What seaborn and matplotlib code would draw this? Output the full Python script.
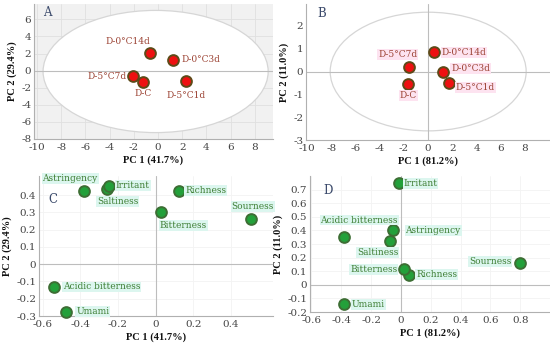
import matplotlib
matplotlib.use("Agg")
import matplotlib.pyplot as plt
from matplotlib.patches import Ellipse
import seaborn as sns
import pandas as pd

# scores (panels A, B)
samples = ["D-0°C14d", "D-0°C3d", "D-5°C7d", "D-C", "D-5°C1d"]
a_pc1 = [-0.7, 1.25, -2.1, -1.25, 2.35]
a_pc2 = [2.05, 1.25, -0.65, -1.28, -1.25]
b_pc1 = [0.52, 1.24, -1.6, -1.65, 1.71]
b_pc2 = [0.85, -0.04, 0.22, -0.54, -0.51]

# loadings (panels C, D)
tastes = ["Astringency", "Saltiness", "Irritant", "Richness", "Bitterness",
          "Sourness", "Acidic bitterness", "Umami"]
c_pc1 = [-0.38, -0.26, -0.25, 0.125, 0.03, 0.505, -0.54, -0.475]
c_pc2 = [0.424, 0.434, 0.45, 0.424, 0.30, 0.263, -0.132, -0.276]
d_pc1 = [-0.05, -0.07, -0.016, 0.056, 0.022, 0.796, -0.38, -0.384]
d_pc2 = [0.40, 0.32, 0.745, 0.074, 0.113, 0.162, 0.351, -0.138]

# label placement: (dx px, dy px, ha)
a_off = {"D-0°C14d": (-22, 12, "center"), "D-0°C3d": (8, 0, "left"),
         "D-5°C7d": (-6, 0, "right"), "D-C": (0, -12, "center"),
         "D-5°C1d": (0, -14, "center")}
b_off = {"D-0°C14d": (7, 0, "left"), "D-0°C3d": (8, 4, "left"),
         "D-5°C7d": (-11, 12, "center"), "D-C": (0, -12, "center"),
         "D-5°C1d": (7, -4, "left")}
c_off = {"Astringency": (-14, 12, "center"), "Saltiness": (11, -12, "center"),
         "Irritant": (7, 1, "left"), "Richness": (6, 0, "left"),
         "Bitterness": (22, -13, "center"), "Sourness": (2, 12, "center"),
         "Acidic bitterness": (9, 0, "left"), "Umami": (10, 0, "left")}
d_off = {"Astringency": (12, 0, "left"), "Saltiness": (-13, -11, "center"),
         "Irritant": (5, 0, "left"), "Richness": (7, 0, "left"),
         "Bitterness": (-7, 0, "right"), "Sourness": (-8, 1, "right"),
         "Acidic bitterness": (15, 17, "center"), "Umami": (8, -1, "left")}

sns.set_theme(style="white")
plt.rcParams["font.family"] = ["DejaVu Serif"]
plt.rcParams["axes.unicode_minus"] = False

W, H = 550, 352
fig = plt.figure(figsize=(5.5, 3.52), dpi=100)


def box(l, r, t, b):
    return [l / W, 1 - b / H, (r - l) / W, (b - t) / H]


def style_axes(ax, letter, lpos, xlab, ylab, xlim, ylim, xticks, yticks, bg="white"):
    ax.set_facecolor(bg)
    ax.set_xlim(*xlim)
    ax.set_ylim(*ylim)
    ax.set_xticks(xticks)
    ax.set_yticks(yticks)
    ax.tick_params(labelsize=7.5, colors="#444444", length=0, pad=2)
    ax.tick_params(axis="x", pad=3)
    for s in ["top", "right"]:
        ax.spines[s].set_visible(False)
    for s in ["left", "bottom"]:
        ax.spines[s].set_color("#b0b0b0")
        ax.spines[s].set_linewidth(0.8)
    ax.set_xlabel(xlab, family="Liberation Serif", fontweight="bold",
                  fontsize=7.5, color="#111111", labelpad=2)
    ax.set_ylabel(ylab, family="Liberation Serif", fontweight="bold",
                  fontsize=7.5, color="#111111", labelpad=3)
    ax.text(lpos[0], lpos[1], letter, transform=ax.transAxes, fontsize=8.5,
            color="#3b4a6b", va="center", ha="left")
    ax.set_axisbelow(True)


def draw_points(ax, xs, ys, names, offs, fill, edge, tcolor, hl):
    df = pd.DataFrame({"x": xs, "y": ys, "name": names})
    sns.scatterplot(data=df, x="x", y="y", ax=ax, s=60, color=fill,
                    edgecolor=edge, linewidth=1.4, zorder=4, clip_on=False,
                    legend=False)
    for _, row in df.iterrows():
        dx, dy, ha = offs[row["name"]]
        ax.annotate(row["name"], (row["x"], row["y"]), xytext=(dx, dy),
                    textcoords="offset pixels", ha=ha, va="center",
                    fontsize=6.5, color=tcolor, zorder=5,
                    bbox=dict(boxstyle="square,pad=0.1", fc=hl, ec="none"))


# A
axA = fig.add_axes(box(34, 273, 4, 139))
style_axes(axA, "A", (0.04, 0.94), "PC 1 (41.7%)", "PC 2 (29.4%)",
           (-10.25, 9.5), (-8, 7.8), range(-10, 9, 2), range(-8, 7, 2),
           bg="#f1f1f1")
axA.grid(True, color="#e0e0e0", linewidth=0.6)
axA.add_patch(Ellipse((-0.2, -0.1), 18.6, 14.3, fc="white", ec="#d6d6d6",
                      lw=0.9, zorder=1))
axA.axhline(0, color="#bdbdbd", lw=0.8, zorder=1.5)
draw_points(axA, a_pc1, a_pc2, samples, a_off, "#ee1111", "#5e4a18",
            "#9c4334", "none")

# B
axB = fig.add_axes(box(306, 550, 4, 140))
style_axes(axB, "B", (0.045, 0.93), "PC 1 (81.2%)", "PC 2 (11.0%)",
           (-10.1, 10.07), (-3, 2.96), range(-10, 9, 2), range(-3, 3, 1))
axB.add_patch(Ellipse((0, 0), 16.2, 5.2, fc="white", ec="#d6d6d6",
                      lw=0.9, zorder=1))
axB.axhline(0, color="#bdbdbd", lw=0.8, zorder=1.5)
axB.axvline(0, color="#bdbdbd", lw=0.8, zorder=1.5)
draw_points(axB, b_pc1, b_pc2, samples, b_off, "#ee1111", "#5e4a18",
            "#9c4334", "#fde3f0")

# C
axC = fig.add_axes(box(39, 273, 176, 316))
style_axes(axC, "C", (0.04, 0.835), "PC 1 (41.7%)", "PC 2 (29.4%)",
           (-0.62, 0.624), (-0.3, 0.51),
           [-0.6, -0.4, -0.2, 0, 0.2, 0.4],
           [-0.3, -0.2, -0.1, 0, 0.1, 0.2, 0.3, 0.4])
axC.set_xticklabels(["-0.6", "-0.4", "-0.2", "0", "0.2", "0.4"])
axC.set_yticklabels(["-0.3", "-0.2", "-0.1", "0", "0.1", "0.2", "0.3", "0.4"])
axC.grid(True, color="#f3f3f3", linewidth=0.6)
axC.axhline(0, color="#bdbdbd", lw=0.8, zorder=1.5)
axC.axvline(0, color="#bdbdbd", lw=0.8, zorder=1.5)
draw_points(axC, c_pc1, c_pc2, tastes, c_off, "#23a03a", "#3d6e34",
            "#3f7f35", "#dcf6ef")

# D
axD = fig.add_axes(box(310, 550, 176, 312))
style_axes(axD, "D", (0.055, 0.895), "PC 1 (81.2%)", "PC 2 (11.0%)",
           (-0.61, 1.0), (-0.2, 0.8),
           [-0.6, -0.4, -0.2, 0, 0.2, 0.4, 0.6, 0.8],
           [-0.2, -0.1, 0, 0.1, 0.2, 0.3, 0.4, 0.5, 0.6, 0.7])
axD.set_xticklabels(["-0.6", "-0.4", "-0.2", "0", "0.2", "0.4", "0.6", "0.8"])
axD.set_yticklabels(["-0.2", "-0.1", "0", "0.1", "0.2", "0.3", "0.4", "0.5",
                     "0.6", "0.7"])
axD.grid(True, color="#f3f3f3", linewidth=0.6)
axD.axhline(0, color="#bdbdbd", lw=0.8, zorder=1.5)
axD.axvline(0, color="#bdbdbd", lw=0.8, zorder=1.5)
draw_points(axD, d_pc1, d_pc2, tastes, d_off, "#23a03a", "#3d6e34",
            "#3f7f35", "#dcf6ef")

fig.savefig("out.png", dpi=100)
